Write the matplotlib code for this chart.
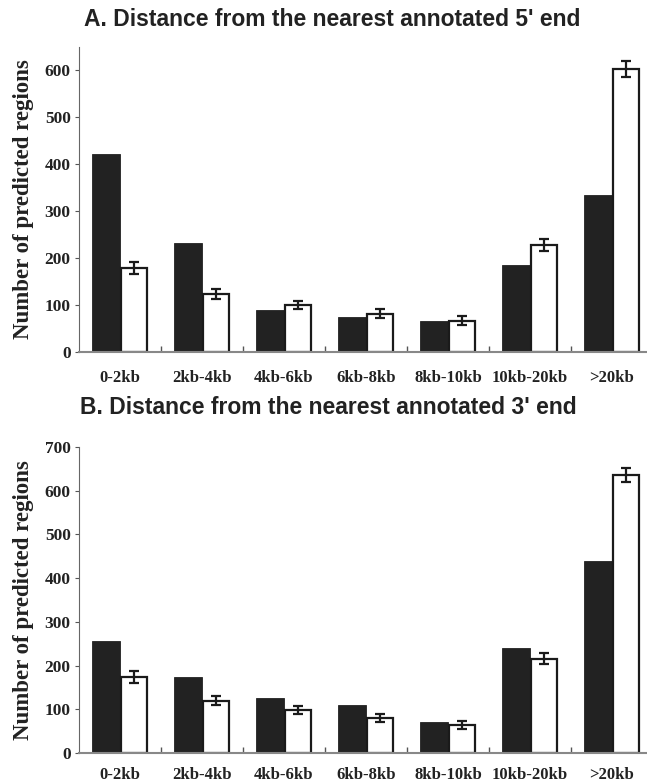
import matplotlib
matplotlib.use("Agg")
import matplotlib.pyplot as plt
import numpy as np

categories = ["0-2kb", "2kb-4kb", "4kb-6kb", "6kb-8kb", "8kb-10kb", "10kb-20kb", ">20kb"]

a_black = [423, 232, 90, 75, 67, 185, 335]
a_white = [179, 124, 100, 82, 67, 228, 604]
a_err = [13, 11, 9, 9, 9, 13, 17]

b_black = [256, 173, 125, 109, 71, 241, 439]
b_white = [174, 120, 98, 81, 65, 216, 636]
b_err = [13, 10, 9, 9, 9, 13, 17]

titles = ["A. Distance from the nearest annotated 5' end",
          "B. Distance from the nearest annotated 3' end"]
ylims = [650, 700]

W, H = 647, 783
fig = plt.figure(figsize=(W / 100, H / 100), dpi=100)

serif = ["Liberation Serif", "DejaVu Serif"]
sans = ["Liberation Sans", "DejaVu Sans"]

axes_rects = [
    [79 / W, (H - 352) / H, (653 - 79) / W, 305 / H],
    [79 / W, (H - 753) / H, (653 - 79) / W, 306 / H],
]
title_pos = [(332, 19), (328, 407)]
xpads = [13, 10]

panels = [(a_black, a_white, a_err), (b_black, b_white, b_err)]
x = np.arange(len(categories))

for i, (blk, wht, err) in enumerate(panels):
    ax = fig.add_axes(axes_rects[i])
    ax.bar(x - 0.17, blk, width=0.35, color="#222222", edgecolor="#222222", linewidth=0.6)
    ax.bar(x + 0.17, wht, width=0.32, color="white", edgecolor="#1a1a1a", linewidth=1.6)
    ax.errorbar(x + 0.17, wht, yerr=err, fmt="none", ecolor="#1a1a1a",
                elinewidth=1.6, capsize=3.5, capthick=1.6)
    ax.set_xlim(-0.5, len(categories) - 0.5)
    ax.set_ylim(0, ylims[i])
    ax.set_yticks(np.arange(0, ylims[i] + 1, 100))
    ax.set_xticks(x)
    ax.set_xticks(x[:-1] + 0.5, minor=True)
    ax.set_xticklabels(categories)
    ax.tick_params(axis="x", which="major", length=0, pad=xpads[i])
    ax.tick_params(axis="x", which="minor", direction="in", length=4, color="#555555", width=1)
    ax.tick_params(axis="y", direction="out", length=3, color="#555555", pad=3)
    for lab in ax.get_xticklabels():
        lab.set_family(serif)
        lab.set_fontweight("bold")
        lab.set_fontsize(12)
        lab.set_color("#222222")
    for lab in ax.get_yticklabels():
        lab.set_family(serif)
        lab.set_fontweight("bold")
        lab.set_fontsize(12.5)
        lab.set_color("#222222")
    for s in ["top", "right"]:
        ax.spines[s].set_visible(False)
    ax.spines["left"].set_color("#666666")
    ax.spines["bottom"].set_color("#888888")
    ax.spines["bottom"].set_linewidth(1.5)
    ax.set_ylabel("Number of predicted regions", family=serif, fontweight="bold",
                  fontsize=16.5, color="#222222", labelpad=8)
    fig.text(title_pos[i][0] / W, 1 - title_pos[i][1] / H, titles[i], family=sans,
             fontweight="bold", fontsize=16.5, color="#222222", ha="center", va="center")

fig.savefig("out.png", dpi=100)
